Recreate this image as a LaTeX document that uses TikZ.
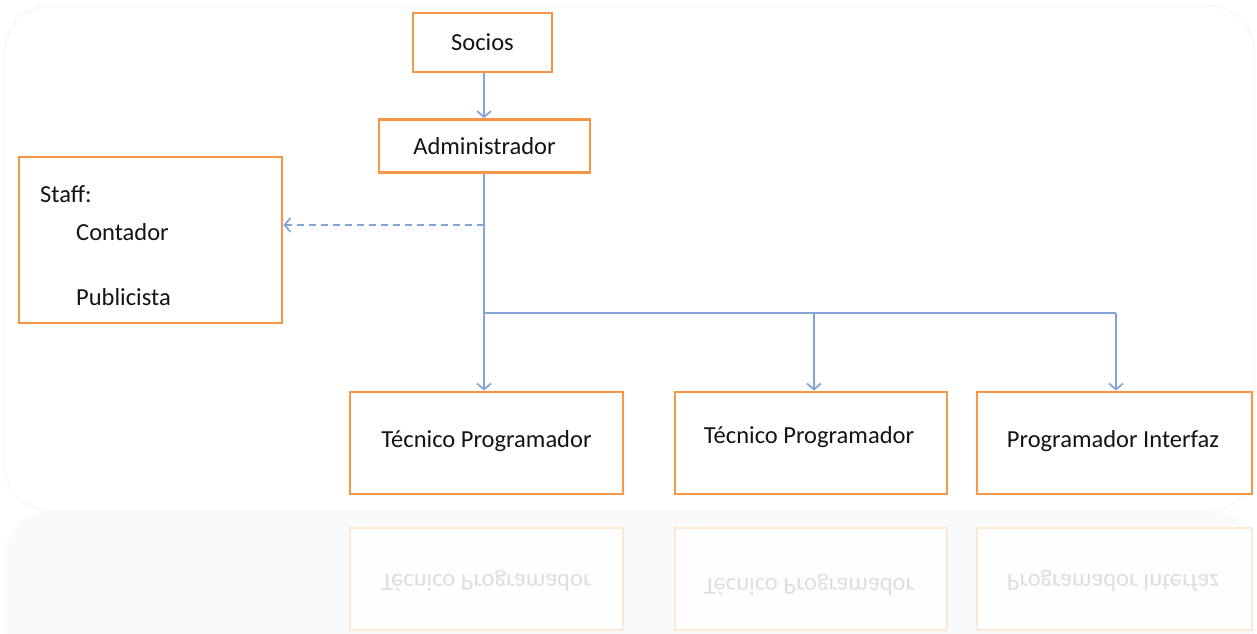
\documentclass[tikz,border=0pt]{standalone}
\usepackage{fontspec}
\setmainfont{Carlito}
\usetikzlibrary{arrows.meta}
\definecolor{boxorange}{RGB}{247,150,70}
\definecolor{connblue}{RGB}{130,165,214}
\definecolor{framegray}{RGB}{243,243,243}
\begin{document}
\begin{tikzpicture}[x=1pt,y=-1pt,
  txt/.style={font=\fontsize{24.5}{28}\selectfont,text=black!92},
  box/.style={draw=boxorange,line width=2.8pt,fill=white,inner sep=0pt,txt},
  reflbox/.style={draw=boxorange!22,line width=2.6pt,fill=white!60!black!1,inner sep=0pt},
  refltxt/.style={font=\fontsize{24.5}{28}\selectfont,text=black!13,yscale=-1,transform shape,inner sep=0pt},
  conn/.style={draw=connblue,line width=2.3pt},
  tip/.style={-{Straight Barb[length=6pt,width=14pt,line width=1.7pt]}},
  ]
\useasboundingbox (0,0) rectangle (1257,633);
% background panel and its reflection
\fill[white] (0,0) rectangle (1257,633);
\draw[framegray,fill=white,line width=0.8pt,rounded corners=45pt] (5,6) rectangle (1254,511);
\begin{scope}
  \clip (0,511) rectangle (1257,633);
  \fill[black!2,rounded corners=45pt] (5,511) rectangle (1254,1016);
\end{scope}

% nodes
\node[box,minimum width=139pt,minimum height=59pt] (socios) at (482.5,42.5) {Socios};
\node[box,minimum width=211pt,minimum height=53pt] (admin) at (484.5,146) {Administrador};
\node[box,minimum width=263pt,minimum height=166pt] (staff) at (150.5,240) {};
\node[txt,anchor=base west,inner sep=0pt] (stafft) at (40,202) {Staff:};
\node[txt,anchor=base west,inner sep=0pt] (contador) at (76,240) {Contador};
\node[txt,anchor=base west,inner sep=0pt] (publicista) at (76,305) {Publicista};
\node[box,minimum width=273pt,minimum height=102pt] (t1) at (486.5,443) {};
\node[txt,inner sep=0pt] (t1t) at (486.5,441) {Técnico Programador};
\node[box,minimum width=272pt,minimum height=102pt] (t2) at (811,443) {};
\node[txt,inner sep=0pt] (t2t) at (809,437) {Técnico Programador};
\node[box,minimum width=275pt,minimum height=102pt] (pi) at (1114.5,443) {};
\node[txt,inner sep=0pt] (pit) at (1113,441) {Programador Interfaz};

% reflections
\node[reflbox,minimum width=273pt,minimum height=102pt] (r1) at (486.5,579) {};
\node[refltxt] (r1t) at (486.5,581) {Técnico Programador};
\node[reflbox,minimum width=272pt,minimum height=102pt] (r2) at (811,579) {};
\node[refltxt] (r2t) at (809,585) {Técnico Programador};
\node[reflbox,minimum width=275pt,minimum height=102pt] (r3) at (1114.5,579) {};
\node[refltxt] (r3t) at (1113,581) {Programador Interfaz};

% connectors
\coordinate (j1) at (484,225);
\coordinate (j2) at (484,313);
\coordinate (b2) at (814,313);
\coordinate (b3) at (1116,313);
\draw[conn,tip] (socios.south -| j1) -- (admin.north -| j1);
\draw[conn,tip] (admin.south -| j1) -- (t1.north -| j1);
\draw[conn,dashed,dash pattern=on 7pt off 5pt,tip] (j1) -- (j1 -| staff.east);
\draw[conn] (j2) -- (b3);
\draw[conn,tip] (b2) -- (b2 |- t2.north);
\draw[conn,tip] (b3) -- (b3 |- pi.north);
\end{tikzpicture}
\end{document}
